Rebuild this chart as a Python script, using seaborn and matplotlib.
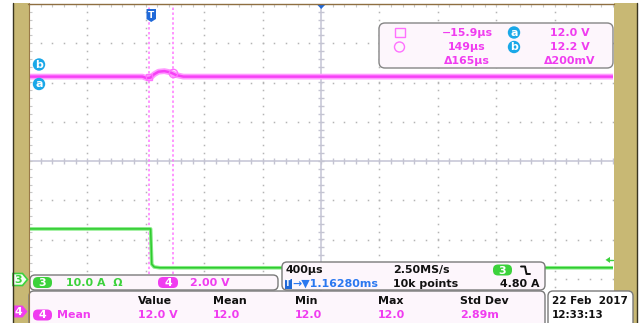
import numpy as np
import matplotlib
matplotlib.use("Agg")
import matplotlib.pyplot as plt
import seaborn as sns
from matplotlib.patches import FancyBboxPatch, Rectangle, Circle, Polygon

# ---- values ----
# horizontal: ms relative to trigger, 400 us/div, 10 divisions
x_left = -0.837
time_per_div = 0.4

# channel 4 (magenta): supply voltage, 2 V/div
ch4_time = [-0.837, -0.06, -0.03, -0.005, 0.02, 0.05, 0.09, 0.13, 0.17, 0.22, 3.163]
ch4_volts = [12.0, 12.0, 11.92, 11.95, 12.12, 12.25, 12.28, 12.22, 12.08, 12.0, 12.0]
ch4_scale = 2.0
ch4_offset = -3.85

# channel 3 (green): current, 10 A/div
ch3_time = [-0.837, -0.004, 0.004, 0.02, 0.06, 3.163]
ch3_amps = [12.7, 12.7, 3.7, 3.0, 2.8, 2.8]
ch3_scale = 10.0
ch3_offset = -3.0

cursor_times = [-0.0159, 0.149]
cursor_volts = [12.0, 12.2]
trigger_level = 4.80

readout_times = ["\u221215.9\u00b5s", "149\u00b5s", "\u0394165\u00b5s"]
readout_volts = ["12.0 V", "12.2 V", "\u0394200mV"]
meas_headers = ["Value", "Mean", "Min", "Max", "Std Dev"]
meas_values = ["12.0 V", "12.0", "12.0", "12.0", "2.89m"]

MAG = "#F03CF0"
GRN = "#3CD23C"
BLUE = "#2A78F0"
CYAN = "#1AA8E8"
KHAKI = "#C8B874"
BOXFILL = "#FDF6FC"
FS = 7.9
FW = "bold"

sns.set_style("white")
plt.rcParams["font.family"] = ["DejaVu Sans"]

fig = plt.figure(figsize=(6.39, 3.23), dpi=100)
fig.patch.set_facecolor("white")

# ---- graticule / traces ----
ax = fig.add_axes([29 / 639, 5 / 323, 584 / 639, 314 / 323])
ax.set_xlim(x_left, x_left + 10 * time_per_div)
ax.set_ylim(-4, 4)
ax.set_xticks([])
ax.set_yticks([])
for s in ax.spines.values():
    s.set_visible(False)

xc = x_left + 5 * time_per_div
fine_y = np.arange(-4, 4.001, 0.2)
fine_x = x_left + np.arange(0, 50.001) * time_per_div / 5
for k in range(1, 10):
    if k == 5:
        continue
    ax.plot(np.full_like(fine_y, x_left + k * time_per_div), fine_y, ls="none",
            marker="s", ms=1.1, mfc="#B4B4B4", mec="none")
for d in [-3, -2, -1, 1, 2, 3]:
    ax.plot(fine_x, np.full_like(fine_x, d), ls="none",
            marker="s", ms=1.1, mfc="#B4B4B4", mec="none")
ax.axvline(xc, color="#CDCDDB", lw=1.3)
ax.axhline(0, color="#CDCDDB", lw=1.3)
ax.plot(np.full_like(fine_y, xc), fine_y, ls="none", marker="_", ms=4, mew=1, color="#C4C4D2")
ax.plot(fine_x, np.zeros_like(fine_x), ls="none", marker="|", ms=4, mew=1, color="#C4C4D2")
ax.plot(np.full_like(fine_y, x_left), fine_y, ls="none", marker="_", ms=4, mew=0.8, color="#C8C8C8")
ax.plot(fine_x, np.full_like(fine_x, 4), ls="none", marker="|", ms=4, mew=0.8, color="#C8C8C8")

for t in cursor_times:
    ax.axvline(t, color="#FF78FF", lw=1.1, ls=(0, (1.6, 1.6)))

ch3_div = [a / ch3_scale + ch3_offset for a in ch3_amps]
ch4_div = [v / ch4_scale + ch4_offset for v in ch4_volts]
sns.lineplot(x=ch3_time, y=ch3_div, ax=ax, color="#86EC86", lw=2.6)
sns.lineplot(x=ch3_time, y=ch3_div, ax=ax, color="#2FCB2F", lw=1.1)
sns.lineplot(x=ch4_time, y=ch4_div, ax=ax, color="#FF9AFF", lw=4.2)
sns.lineplot(x=ch4_time, y=ch4_div, ax=ax, color="#F640F6", lw=1.8)

ax.plot(cursor_times[0], cursor_volts[0] / ch4_scale + ch4_offset, marker="s",
        ms=5, mfc="none", mec="#FF70FF", mew=1)
ax.plot(cursor_times[1], cursor_volts[1] / ch4_scale + ch4_offset, marker="o",
        ms=6, mfc="none", mec="#FF70FF", mew=1)

# ---- screen frame, markers and readouts (pixel coordinates) ----
ov = fig.add_axes([0, 0, 1, 1])
ov.set_xlim(0, 639)
ov.set_ylim(323, 0)
ov.axis("off")
ov.patch.set_alpha(0)

ov.add_patch(Rectangle((12.5, 3), 16, 320, fc=KHAKI, ec="none"))
ov.plot([12.5, 12.5], [3, 323], color="#3A3520", lw=1)
ov.plot([28.5, 28.5], [3, 323], color="#9A7A48", lw=0.8)
ov.add_patch(Rectangle((614, 3), 23, 320, fc=KHAKI, ec="none"))
ov.plot([637, 637], [3, 323], color="#3A3520", lw=1)
ov.plot([28, 614], [3.5, 3.5], color="#8E6E40", lw=1)


def rbox(x0, y0, x1, y1, fc=BOXFILL, ec="#7A7A7A", r=5, lw=1.0):
    ov.add_patch(FancyBboxPatch((x0, y0), x1 - x0, y1 - y0,
                                boxstyle=f"round,pad=0,rounding_size={r}",
                                fc=fc, ec=ec, lw=lw))


def txt(x, y, s, color="#111111", ha="left", size=FS):
    ov.text(x, y, s, color=color, fontsize=size, ha=ha, va="center", fontweight=FW)


def pill(xm, ym, label, fc, w=18, h=11):
    rbox(xm - w / 2, ym - h / 2, xm + w / 2, ym + h / 2, fc=fc, ec="none", r=5)
    txt(xm, ym + 0.5, label, color="white", ha="center")


def badge(xm, ym, label):
    ov.add_patch(Circle((xm, ym), 6.2, fc=CYAN, ec="none"))
    txt(xm, ym + 0.3, label, color="white", ha="center")


# trigger position marker and center marker
ov.add_patch(Polygon([[146.5, 9], [156, 9], [156, 19], [151.2, 22], [146.5, 19]],
                     closed=True, fc="#2069D8", ec="none"))
txt(151.3, 15, "T", color="white", ha="center", size=6.5)
ov.add_patch(Polygon([[316.5, 4], [326, 4], [321.2, 9]], closed=True, fc="#2069D8",
                     ec="none"))

# waveform cursor labels
badge(39, 64.5, "b")
badge(39, 84, "a")

# trigger level arrow on the right
trig_y = 161 - (trigger_level / ch3_scale + ch3_offset) * 39.25
ov.add_patch(Polygon([[605.5, trig_y], [610, trig_y - 3], [610, trig_y + 3]],
                     closed=True, fc=GRN, ec="none"))
ov.plot([608, 613], [trig_y, trig_y], color=GRN, lw=1)

# channel ground markers on the left
ov.add_patch(Polygon([[13, 273.5], [22.5, 273.5], [27.5, 279.5], [22.5, 285.5], [13, 285.5]],
                     closed=True, fc="#F4FFF4", ec=GRN, lw=1.2))
txt(18.5, 279.8, "3", color=GRN, ha="center")
ov.add_patch(Polygon([[13, 305.5], [22.5, 305.5], [27.5, 311.5], [22.5, 317.5], [13, 317.5]],
                     closed=True, fc=MAG, ec="none"))
txt(18.5, 311.8, "4", color="white", ha="center")

# cursor readout box
rbox(379, 23, 613, 68, fc=BOXFILL, ec="#858585", r=6)
ov.add_patch(Rectangle((394.5, 27.5), 10, 9, fc="none", ec="#FF70FF", lw=1))
ov.add_patch(Circle((399.5, 47), 5, fc="none", ec="#FF70FF", lw=1))
for i, (tt, vv) in enumerate(zip(readout_times, readout_volts)):
    y = 32.5 + i * 14.3
    txt(467, y, tt, color=MAG, ha="center")
    txt(570, y, vv, color=MAG, ha="center")
badge(514, 32.5, "a")
badge(514, 47, "b")

# channel scale box
rbox(30, 275, 278, 290, r=5)
pill(42.5, 282.5, "3", GRN, w=19)
txt(66, 282.8, "10.0 A  \u03a9", color=GRN)
pill(168, 282.5, "4", MAG, w=20)
txt(190, 282.8, "2.00 V", color=MAG)

# horizontal / acquisition box
rbox(282, 262, 545, 290, r=5)
txt(286, 270, "400\u00b5s")
txt(393, 270, "2.50MS/s")
pill(502.5, 270, "3", GRN, w=19)
ov.plot([521, 525, 526.5, 530], [266.5, 266.5, 274, 274], color="#111111", lw=1.4)
ov.add_patch(Rectangle((284.5, 278.5), 7, 10, fc="#2069D8", ec="none"))
txt(288, 283.8, "T", color="white", ha="center", size=5.8)
txt(292, 284, "\u2192\u25bc1.16280ms", color=BLUE)
txt(393, 284, "10k points")
txt(539, 284, f"{trigger_level:.2f} A", ha="right")

# measurement table
rbox(29, 291, 545, 330, r=5)
col_x = [138, 213, 295, 378, 460]
for cx, h, v in zip(col_x, meas_headers, meas_values):
    txt(cx, 301, h)
    txt(cx, 315.5, v, color=MAG)
pill(42.5, 315, "4", MAG, w=19)
txt(57, 315.5, "Mean", color=MAG)

# date box
rbox(548, 291, 633, 330, fc="white", r=5)
txt(551.5, 301, "22 Feb  2017", size=7.5)
txt(551.5, 315.5, "12:33:13", size=7.5)

fig.savefig("out.png", dpi=100)
